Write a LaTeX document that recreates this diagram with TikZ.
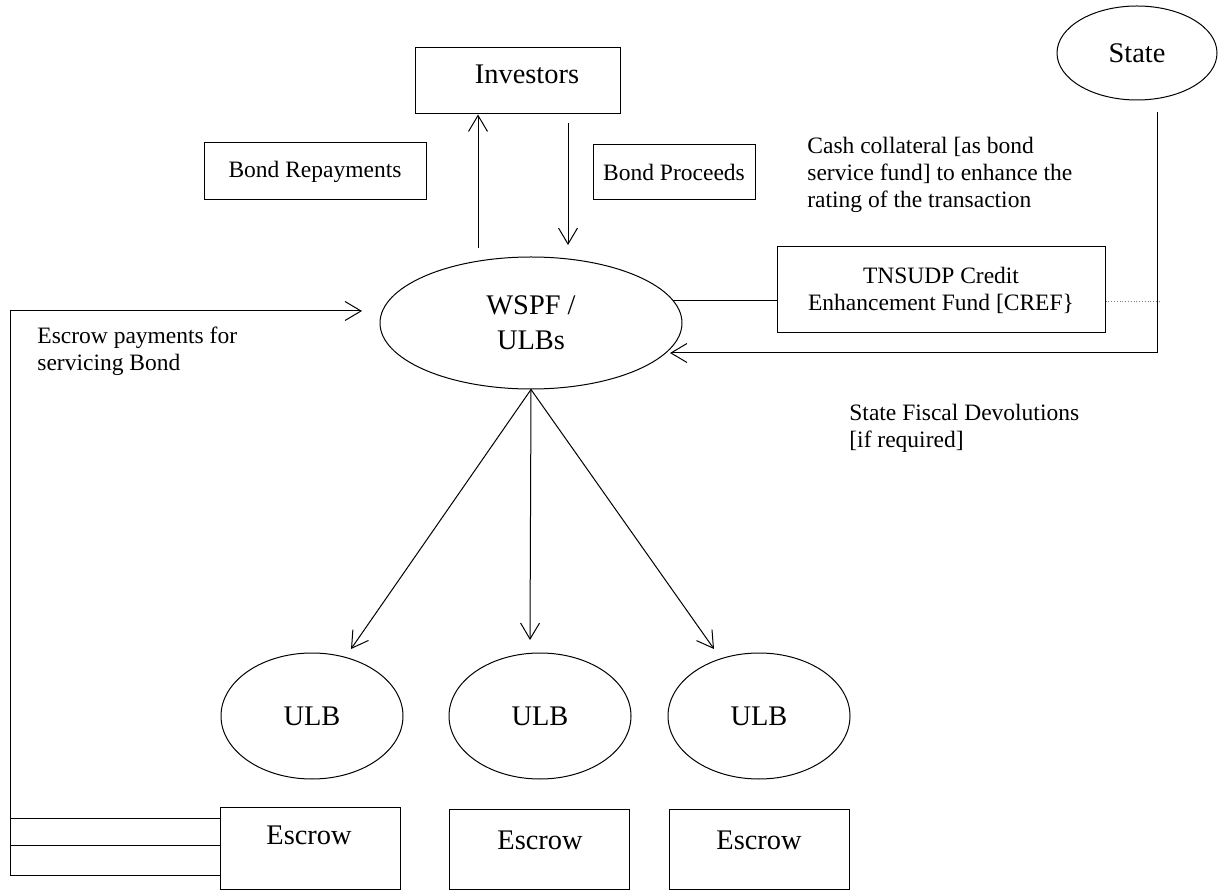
\documentclass[tikz,border=0pt]{standalone}
\usepackage{fontspec}
\setmainfont{Liberation Serif}
\usetikzlibrary{arrows.meta,calc,shapes.geometric}
\begin{document}
\begin{tikzpicture}[x=0.5pt,y=-0.5pt,
  ln/.style={line width=0.5pt},
  arr/.style={ln,-{Straight Barb[length=8pt,width=9.5pt,line width=0.5pt]}},
  box/.style={draw,ln,rectangle,inner sep=0pt},
  ell/.style={draw,ln,ellipse,inner sep=0pt},
  big/.style={font=\fontsize{14.2}{17.5}\selectfont},
  small/.style={font=\fontsize{11.75}{13.5}\selectfont},
  txt/.style={small,anchor=west,align=left,inner sep=0pt},
]
\useasboundingbox (0,0) rectangle (1220,892);

% top
\node[box,minimum width=102.5pt,minimum height=33pt] (inv) at (517.5,81) {};
\node[big] (invt) at (527,74) {Investors};
\node[box,small,minimum width=111pt,minimum height=28.5pt] (brep) at (315,171.5) {Bond Repayments};
\node[box,small,minimum width=81pt,minimum height=27.5pt] (bpro) at (674,172.5) {Bond Proceeds};
\node[txt] (cash) at (807,175) {Cash collateral [as bond\\service fund] to enhance the\\rating of the transaction};
\node[ell,big,minimum width=80pt,minimum height=47pt] (state) at (1137,53) {State};

% middle
\node[ell,big,minimum width=151pt,minimum height=66pt,align=center] (wspf) at (531,323) {WSPF /\\ULBs};
\node[box,small,minimum width=164pt,minimum height=43pt,align=center] (cref) at (941,290) {TNSUDP Credit\\Enhancement Fund [CREF\}};
\node[txt] (sfd) at (849,428) {State Fiscal Devolutions\\{}[if required]};
\node[txt] (epb) at (37,351) {Escrow payments for\\servicing Bond};

% ULBs
\node[ell,big,minimum width=91pt,minimum height=63pt] (u1) at (312,716) {ULB};
\node[ell,big,minimum width=91pt,minimum height=63pt] (u2) at (540,716) {ULB};
\node[ell,big,minimum width=91pt,minimum height=63pt] (u3) at (759,716) {ULB};

% Escrows
\node[box,minimum width=90pt,minimum height=41pt] (esc1) at (310,848) {};
\node[big] (esc1t) at (309,835) {Escrow};
\node[box,minimum width=90pt,minimum height=40pt] (esc2) at (539,849) {};
\node[big] (esc2t) at (540,840) {Escrow};
\node[box,minimum width=90pt,minimum height=40pt] (esc3) at (759,849) {};
\node[big] (esc3t) at (759,840) {Escrow};

% coordinates
\coordinate (ua) at (478,248);
\coordinate (da0) at (568,123);
\coordinate (da1) at (568,245);
\coordinate (s1) at (1157,112);
\coordinate (s3) at (670,353);
\coordinate (w1) at (673,301);
\coordinate (d1) at (1160,301);
\coordinate (e0) at (10,311);
\coordinate (e1) at (362,311);
\coordinate (l1) at (10,818);
\coordinate (l2) at (10,845);
\coordinate (l3) at (10,875);
\coordinate (t1) at (351,649);
\coordinate (t2) at (530,640);
\coordinate (t3) at (714,649);

% connectors
\draw[arr] (ua) -- (ua |- inv.south);
\draw[arr] (da0) -- (da1);
\draw[arr] (s1) |- (s3);
\draw[ln] (w1) -- (w1 -| cref.west);
\draw[line width=0.4pt,densely dotted,gray] (cref.east |- d1) -- (d1);
\draw[arr] (l3 -| esc1.west) -- (l3) -- (e0) -- (e1);
\draw[ln] (l1) -- (l1 -| esc1.west);
\draw[ln] (l2) -- (l2 -| esc1.west);
\draw[arr] (wspf.south) -- (t1);
\draw[arr] (wspf.south) -- (t2);
\draw[arr] (wspf.south) -- (t3);
\end{tikzpicture}
\end{document}
